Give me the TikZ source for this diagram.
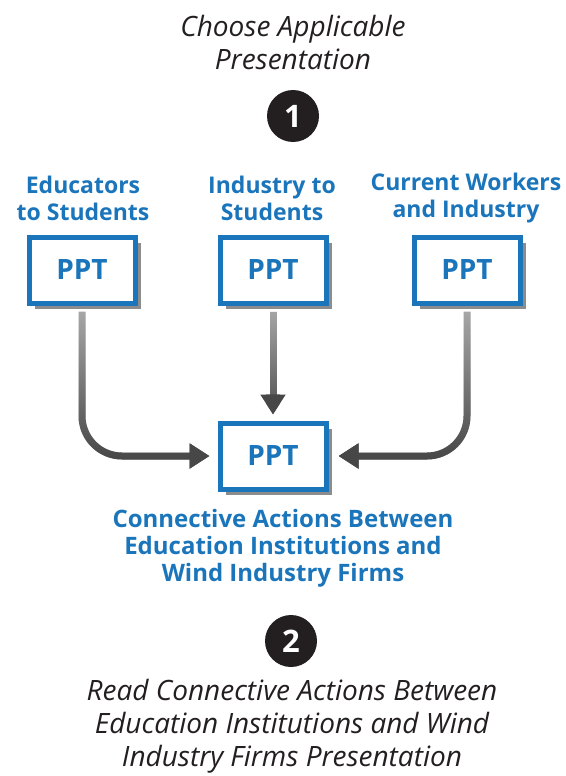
\documentclass[tikz,border=0pt]{standalone}
\usepackage{fontspec}
\setmainfont{Open Sans}
\usetikzlibrary{arrows.meta,shadows,fadings,positioning}
\definecolor{pblue}{HTML}{1B75BB}
\definecolor{ink}{HTML}{231F20}
\tikzset{
  ppt/.style={draw=pblue, line width=5pt, fill=white, minimum width=106pt, minimum height=66pt,
    text=pblue, font=\fontsize{28}{30}\selectfont\bfseries,
    drop shadow={shadow xshift=6pt, shadow yshift=-6pt, fill=black!45, opacity=1}},
  head/.style={text=pblue, align=center, font=\fontsize{23}{27}\selectfont\bfseries},
  note/.style={text=ink, align=center, font=\fontsize{28}{33}\selectfont\itshape},
  num/.style={circle, fill=ink, minimum size=52pt, inner sep=0pt, text=white, font=\fontsize{31}{31}\selectfont\bfseries},
  conn/.style={line width=7pt, -{Triangle[length=20pt,width=24pt,color=black!72]}},
}
\begin{document}
\begin{tikzpicture}[x=1pt,y=-1pt]
\useasboundingbox (0,0) rectangle (565,776);
\node[note] (title) at (293,43) {Choose Applicable\\Presentation};
\node[num] (c1) at (293,116) {1};
\node[head] (h1) at (83,198) {Educators\\to Students};
\node[head] (h2) at (272,198) {Industry to\\Students};
\node[head] (h3) at (466,198) {Current Workers\\and Industry};
\node[ppt] (b1) at (82,270) {PPT};
\node[ppt] (b2) at (273,270) {PPT};
\node[ppt] (b3) at (467,270) {PPT};
\node[ppt] (b4) at (273,456) {PPT};
% base light strokes
\draw[conn, black!32, shorten >=6pt, shorten <=6pt] (b2.south) -- (b4.north);
\draw[conn, black!32, rounded corners=40pt, shorten >=8pt, shorten <=6pt] (b1.south) |- (b4.west);
\draw[conn, black!32, rounded corners=40pt, shorten >=10pt, shorten <=6pt] (b3.south) |- (b4.east);
% darker overlay fading upward
\draw[conn, black!72, path fading=north, shorten >=6pt, shorten <=6pt] (b2.south) -- (b4.north);
\draw[conn, black!72, path fading=north, rounded corners=40pt, shorten >=8pt, shorten <=6pt] (b1.south) |- (b4.west);
\draw[conn, black!72, path fading=north, rounded corners=40pt, shorten >=10pt, shorten <=6pt] (b3.south) |- (b4.east);
\node[head, font=\fontsize{24}{27}\selectfont\bfseries] (desc) at (283,548) {Connective Actions Between\\Education Institutions and\\Wind Industry Firms};
\node[num] (c2) at (291,641) {2};
\node[note] (foot) at (292,726) {Read Connective Actions Between\\Education Institutions and Wind\\Industry Firms Presentation};
\end{tikzpicture}
\end{document}
